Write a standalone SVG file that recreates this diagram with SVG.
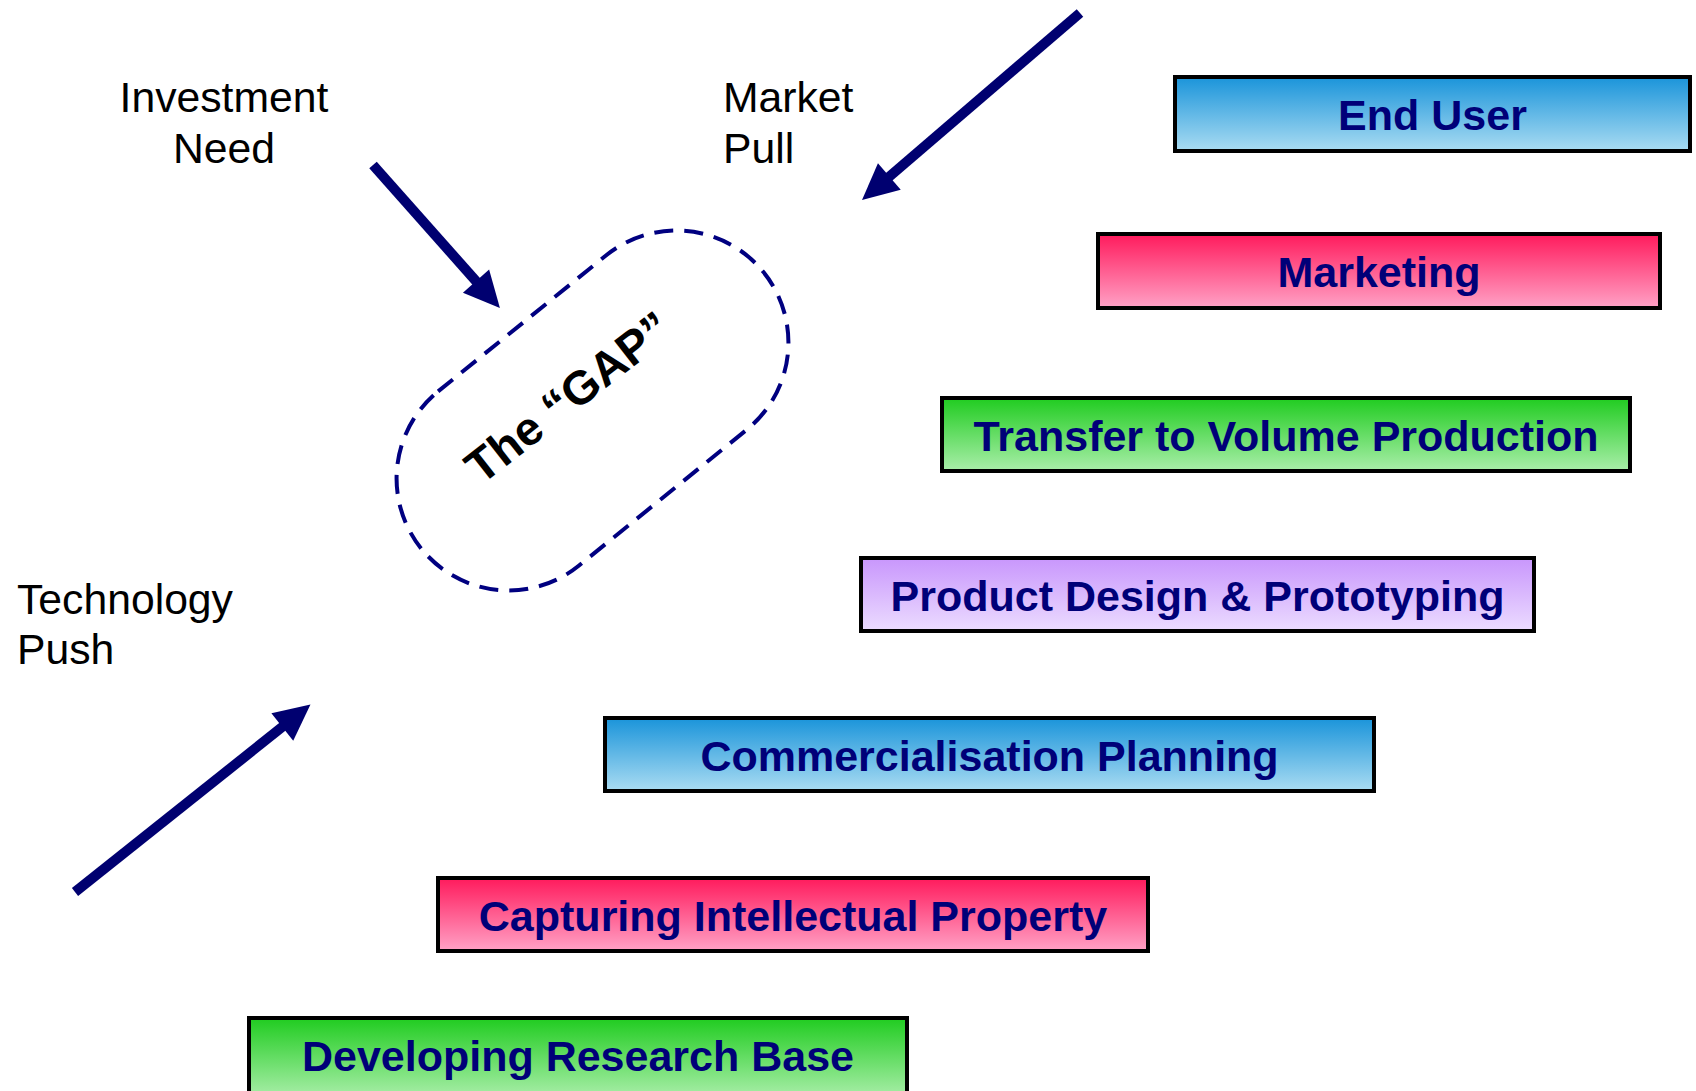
<svg xmlns="http://www.w3.org/2000/svg" width="1696" height="1091" viewBox="0 0 1696 1091">
<style>
.box{stroke:#000;stroke-width:4}
.bt{font-family:"Liberation Sans",Arial,sans-serif;font-weight:bold;font-size:43px;fill:#000078;text-anchor:middle}
.lbl{font-family:"Liberation Sans",Arial,sans-serif;font-size:42.7px;fill:#000}
.arr{stroke:#000070;stroke-width:10;fill:none}
</style>
<defs>
<linearGradient id="gBlue" x1="0" y1="0" x2="0" y2="1"><stop offset="0" stop-color="#1a94da"/><stop offset="1" stop-color="#aadcf2"/></linearGradient>
<linearGradient id="gPink" x1="0" y1="0" x2="0" y2="1"><stop offset="0" stop-color="#ff1a5c"/><stop offset="1" stop-color="#ffa2c6"/></linearGradient>
<linearGradient id="gGreen" x1="0" y1="0" x2="0" y2="1"><stop offset="0" stop-color="#20cc20"/><stop offset="1" stop-color="#aaeeaa"/></linearGradient>
<linearGradient id="gPurple" x1="0" y1="0" x2="0" y2="1"><stop offset="0" stop-color="#c896fc"/><stop offset="1" stop-color="#ecdcff"/></linearGradient>
<marker id="ah" markerUnits="userSpaceOnUse" markerWidth="36" markerHeight="36" refX="6" refY="17.5" orient="auto" overflow="visible">
<path d="M0,0 L36,17.5 L0,35 z" fill="#000070"/>
</marker>
</defs>
<rect width="1696" height="1091" fill="#fff"/>

<g id="connectors">
<line class="arr" x1="373" y1="165" x2="480" y2="285.6" marker-end="url(#ah)"/>
<line class="arr" x1="1080" y1="13" x2="884.8" y2="180.5" marker-end="url(#ah)"/>
<line class="arr" x1="75" y1="892" x2="287" y2="723.2" marker-end="url(#ah)"/>
</g>

<g id="gap">
<rect x="-220" y="-112" width="440" height="224" rx="112" ry="112" fill="none" stroke="#000080" stroke-width="4" stroke-dasharray="19 11" transform="translate(592.5 410.5) rotate(-39)"/>
<text x="0" y="0" transform="translate(578 410) rotate(-38)" style="font-family:'Liberation Sans',Arial,sans-serif;font-weight:bold;font-size:47px;fill:#000;text-anchor:middle">The “GAP”</text>
</g>

<g id="label-investment">
<text class="lbl" x="224" y="112" text-anchor="middle">Investment</text>
<text class="lbl" x="224" y="163" text-anchor="middle">Need</text>
</g>
<g id="label-market">
<text class="lbl" x="723" y="112">Market</text>
<text class="lbl" x="723" y="163">Pull</text>
</g>
<g id="label-technology">
<text class="lbl" x="17" y="614">Technology</text>
<text class="lbl" x="17" y="664">Push</text>
</g>

<g id="end-user">
<rect class="box" x="1175" y="77" width="515" height="74" fill="url(#gBlue)"/>
<text class="bt" x="1432.5" y="130">End User</text>
</g>
<g id="marketing">
<rect class="box" x="1098" y="234" width="562" height="74" fill="url(#gPink)"/>
<text class="bt" x="1379" y="287">Marketing</text>
</g>
<g id="transfer">
<rect class="box" x="942" y="398" width="688" height="73" fill="url(#gGreen)"/>
<text class="bt" x="1286" y="451">Transfer to Volume Production</text>
</g>
<g id="product-design">
<rect class="box" x="861" y="558" width="673" height="73" fill="url(#gPurple)"/>
<text class="bt" x="1197.5" y="611">Product Design &amp; Prototyping</text>
</g>
<g id="commercialisation">
<rect class="box" x="605" y="718" width="769" height="73" fill="url(#gBlue)"/>
<text class="bt" x="989.5" y="771">Commercialisation Planning</text>
</g>
<g id="capturing-ip">
<rect class="box" x="438" y="878" width="710" height="73" fill="url(#gPink)"/>
<text class="bt" x="793" y="931">Capturing Intellectual Property</text>
</g>
<g id="research-base">
<rect class="box" x="249" y="1018" width="658" height="80" fill="url(#gGreen)"/>
<text class="bt" x="578" y="1071">Developing Research Base</text>
</g>
</svg>
